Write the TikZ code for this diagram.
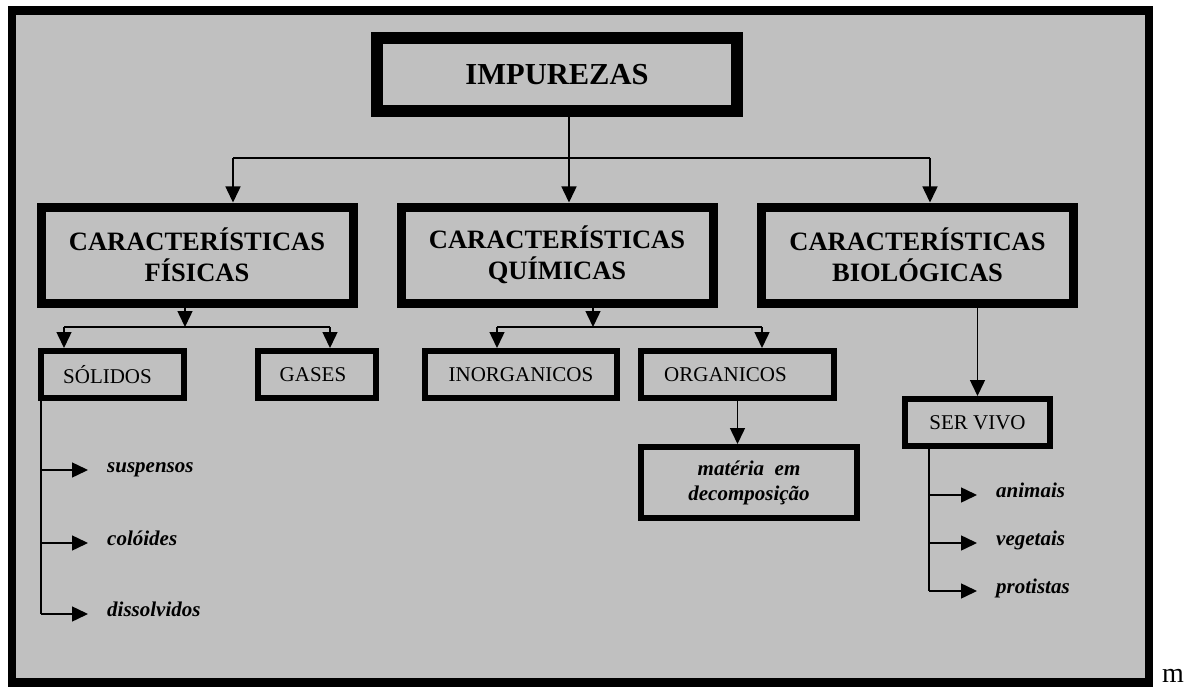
\documentclass[tikz,border=0pt]{standalone}
\usepackage{fontspec}
\setmainfont{Liberation Serif}
\usepackage{xcolor}
\usetikzlibrary{arrows.meta}
\definecolor{cinza}{HTML}{C0C0C0}

\begin{document}
\begin{tikzpicture}[x=1pt,y=-1pt,
	caixa/.style={draw,fill=cinza,inner sep=0pt,align=center},
	topo/.style={caixa,line width=12pt,minimum width=360pt,minimum height=73pt,font=\fontsize{30.5}{36}\selectfont\bfseries},
	grande/.style={caixa,line width=9pt,minimum width=312pt,minimum height=96pt,font=\fontsize{26.5}{31}\selectfont\bfseries},
	pequena/.style={caixa,line width=6pt,minimum height=47pt,font=\fontsize{21}{25}\selectfont},
	item/.style={anchor=west,inner sep=4pt,text height=1ex,text depth=0pt,font=\fontsize{21}{25}\selectfont\bfseries\itshape},
	linha/.style={line width=1.5pt},
	seta/.style={linha,-{Triangle[length=16pt,width=15pt]}}]
	\useasboundingbox (0,0) rectangle (1192,690);
	\draw[line width=8.5pt,fill=cinza] (12,10.5) rectangle (1149,682.5);
	\node[anchor=base west,inner sep=0pt,font=\fontsize{28}{30}\selectfont] (m) at (1162,682) {m};
	% caixas
	\node[topo] (imp) at (557,74.5) {IMPUREZAS};
	\node[grande] (fis) at (197,255) {CARACTERÍSTICAS\\FÍSICAS};
	\node[grande] (qui) at (557,255) {CARACTERÍSTICAS\\QUÍMICAS};
	\node[grande] (bio) at (917.5,255) {CARACTERÍSTICAS\\BIOLÓGICAS};
	\node[pequena,minimum width=143pt] (sol) at (112.5,374.5) {SÓLIDOS\hspace*{10pt}};
	\node[pequena,minimum width=118pt] (gas) at (317,374.5) {GASES\hspace*{8pt}};
	\node[pequena,minimum width=192pt] (ino) at (521,374.5) {INORGANICOS};
	\node[pequena,minimum width=193pt] (org) at (737.5,374.5) {ORGANICOS\hspace*{24pt}};
	\node[pequena,minimum width=216pt,minimum height=71pt,font=\fontsize{21}{25}\selectfont\bfseries\itshape] (mat) at (749,482.5) {matéria~ em\\decomposição};
	\node[pequena,minimum width=145pt] (viv) at (977.5,422.5) {SER VIVO};
	% primeiro nivel
	\coordinate (a) at (233,158);
	\coordinate (b) at (569,158);
	\coordinate (c) at (930,158);
	\draw[linha] (imp.south -| b) -- (b);
	\draw[linha] (a) -- (c);
	\draw[seta] (a) -- (fis.north -| a);
	\draw[seta] (b) -- (qui.north -| b);
	\draw[seta] (c) -- (bio.north -| c);
	% fisicas
	\coordinate (f) at (185,327);
	\coordinate (f1) at (64,327);
	\coordinate (f2) at (330,327);
	\draw[seta] (fis.south -| f) -- (f);
	\draw[linha] (f1) -- (f2);
	\draw[seta] (f1) -- (sol.north -| f1);
	\draw[seta] (f2) -- (gas.north -| f2);
	% quimicas
	\coordinate (q) at (593,327);
	\coordinate (q1) at (497,327);
	\coordinate (q2) at (762,327);
	\draw[seta] (qui.south -| q) -- (q);
	\draw[linha] (q1) -- (q2);
	\draw[seta] (q1) -- (ino.north -| q1);
	\draw[seta] (q2) -- (org.north -| q2);
	\draw[seta] (org.south) -- (mat.north -| org);
	% biologicas
	\draw[seta] (bio.south -| viv) -- (viv.north);
	% listas
	\coordinate (s0) at (41,614);
	\draw[linha] (sol.south -| s0) -- (s0);
	\foreach \Nome/\Y/\Texto in {susp/470/suspensos, col/543/colóides, dis/614/dissolvidos} {
		\node[item] (\Nome) at (103,\Y) {\Texto};
		\coordinate (\Nome-p) at (41,\Y);
		\draw[seta,shorten >=15pt] (\Nome-p) -- (\Nome.west);
	}
	\coordinate (v0) at (929,591);
	\draw[linha] (viv.south -| v0) -- (v0);
	\foreach \Nome/\Y/\Texto in {ani/495/animais, veg/543/vegetais, pro/591/protistas} {
		\node[item] (\Nome) at (992,\Y) {\Texto};
		\coordinate (\Nome-p) at (929,\Y);
		\draw[seta,shorten >=15pt] (\Nome-p) -- (\Nome.west);
	}
\end{tikzpicture}
\end{document}
